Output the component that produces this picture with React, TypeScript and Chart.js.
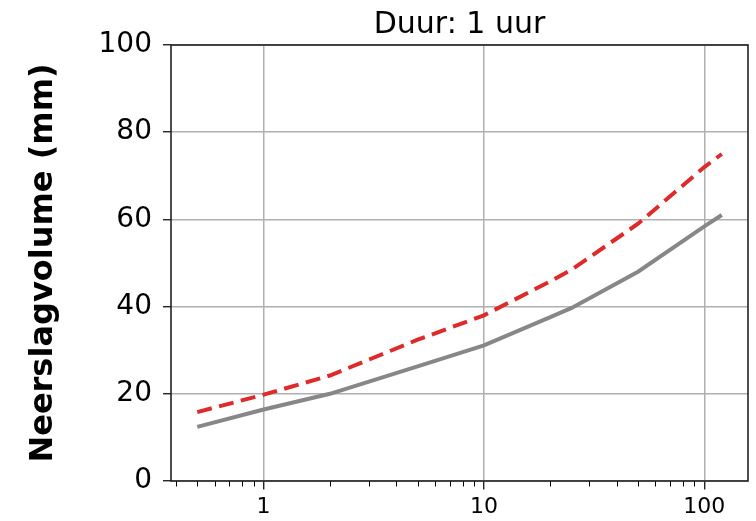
import { useEffect, useRef } from "react";
import { Chart, registerables } from "chart.js";
Chart.register(...registerables);

// Herhalingstijd (jaar) en neerslagvolume (mm)
const returnPeriods = [0.5, 1, 2, 5, 10, 20, 25, 50, 100, 120];
const grayValues = [12.4, 16.4, 20.0, 26.3, 31.1, 37.6, 39.7, 48.0, 58.4, 61.0];
const redValues = [15.8, 19.8, 24.2, 32.4, 38.0, 45.8, 48.5, 59.0, 72.0, 75.0];
const xMajorTicks = [1, 10, 100];
const xMinorTicks = [0.4, 0.5, 0.6, 0.7, 0.8, 0.9, 2, 3, 4, 5, 6, 7, 8, 9, 20, 30, 40, 50, 60, 70, 80, 90];
const yTicks = [0, 20, 40, 60, 80, 100];
const titleText = "Duur: 1 uur";
const yLabel = "Neerslagvolume (mm)";

const FONT = "'DejaVu Sans', Verdana, sans-serif";

export default function App() {
  const ref = useRef<HTMLCanvasElement>(null);
  useEffect(() => {
    const framePlugin = {
      id: "frame",
      afterDraw(chart: any) {
        const { ctx, chartArea: a } = chart;
        const xs = chart.scales.x;
        ctx.save();
        ctx.strokeStyle = "#000";
        ctx.lineWidth = 1;
        for (const v of xMinorTicks) {
          const px = Math.round(xs.getPixelForValue(v)) + 0.5;
          ctx.beginPath();
          ctx.moveTo(px, a.bottom);
          ctx.lineTo(px, a.bottom + 5.5);
          ctx.stroke();
        }
        ctx.strokeStyle = "#222";
        ctx.lineWidth = 1.6;
        ctx.strokeRect(a.left, a.top, a.right - a.left, a.bottom - a.top);
        ctx.restore();
      },
    };
    const chart = new Chart(ref.current as HTMLCanvasElement, {
      type: "line",
      data: {
        datasets: [
          {
            label: "gray",
            data: returnPeriods.map((x, i) => ({ x, y: grayValues[i] })),
            borderColor: "#878787",
            borderWidth: 4,
            pointRadius: 0,
            fill: false,
            tension: 0,
          },
          {
            label: "red",
            data: returnPeriods.map((x, i) => ({ x, y: redValues[i] })),
            borderColor: "#dd2a2a",
            borderWidth: 4,
            borderDash: [15, 7.5],
            pointRadius: 0,
            fill: false,
            tension: 0,
          },
        ],
      },
      options: {
        responsive: false,
        animation: false,
        layout: { padding: { left: 0, right: 8, top: 0, bottom: 0 } },
        plugins: {
          legend: { display: false },
          tooltip: { enabled: false },
          title: {
            display: true,
            text: titleText,
            fullSize: false,
            color: "#000",
            font: { family: FONT, size: 30, weight: "normal", lineHeight: 1.2 },
            padding: { top: 6.8, bottom: 2.2 },
          },
        },
        scales: {
          x: {
            type: "logarithmic",
            min: 0.38,
            max: 157.8,
            afterBuildTicks: (s: any) => {
              s.ticks = xMajorTicks.map((v) => ({ value: v, major: true }));
            },
            afterFit: (s: any) => {
              s.height = 40;
            },
            grid: { color: "#b0b0b0", lineWidth: 1.5, tickLength: 8.5, tickColor: "#000", tickWidth: 1.2 },
            border: { display: false },
            ticks: {
              autoSkip: false,
              maxRotation: 0,
              padding: 5,
              color: "#000",
              font: { family: FONT, size: 22 },
              callback: (v: any) => String(v),
            },
          },
          y: {
            type: "linear",
            min: 0,
            max: 100,
            afterBuildTicks: (s: any) => {
              s.ticks = yTicks.map((v) => ({ value: v }));
            },
            afterFit: (s: any) => {
              s.width = 171;
            },
            grid: { color: "#b0b0b0", lineWidth: 1.5, tickLength: 8, tickColor: "#000", tickWidth: 1.2 },
            border: { display: false },
            ticks: {
              padding: 11,
              color: "#000",
              font: { family: FONT, size: 28 },
              callback: (v: any) => String(v),
            },
            title: {
              display: true,
              text: yLabel,
              color: "#000",
              font: { family: FONT, size: 32, weight: "bold", lineHeight: 1.2 },
              padding: { top: 24, bottom: 0 },
            },
          },
        },
      },
      plugins: [framePlugin],
    } as any);
    return () => chart.destroy();
  }, []);
  return (
    <div style={{ position: "absolute", left: 0, top: 0, width: 756, height: 521, background: "#fff" }}>
      <canvas ref={ref} width={756} height={521} style={{ display: "block" }} />
    </div>
  );
}
